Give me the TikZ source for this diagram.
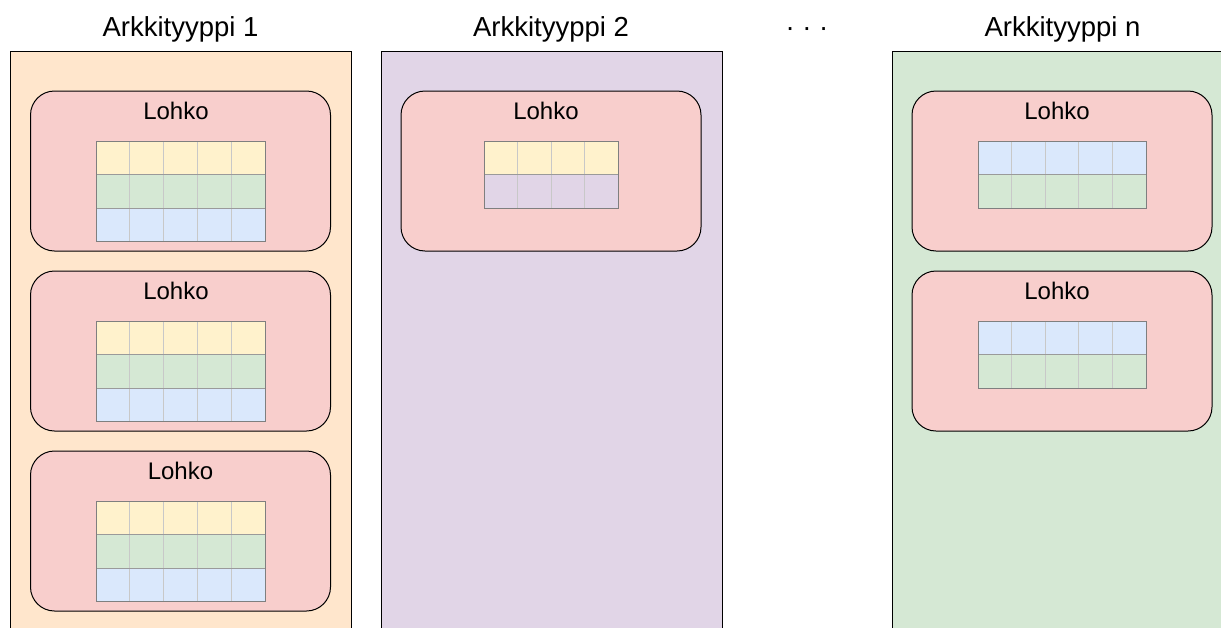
\documentclass[tikz,border=0pt]{standalone}
\usepackage{fontspec}
\setmainfont{Liberation Sans}
\definecolor{archA}{HTML}{FFE6CC}
\definecolor{archB}{HTML}{E1D5E7}
\definecolor{archC}{HTML}{D5E8D4}
\definecolor{blockfill}{HTML}{F8CECC}
\definecolor{rowY}{HTML}{FFF2CC}
\definecolor{rowG}{HTML}{D5E8D4}
\definecolor{rowB}{HTML}{DAE8FC}
\definecolor{rowP}{HTML}{E1D5E7}
\definecolor{cellline}{HTML}{C8C8C8}
\definecolor{rowline}{HTML}{9A9A9A}
\definecolor{gridedge}{HTML}{7F7F7F}
\tikzset{
  archetype/.style={draw=black, line width=0.5pt, anchor=north west, inner sep=0pt, outer sep=0pt,
    minimum width=170.5pt, minimum height=300pt},
  block/.style={draw=black, line width=0.5pt, fill=blockfill, rounded corners=12pt, anchor=north west,
    inner sep=0pt, outer sep=0pt, minimum width=150pt, minimum height=80pt},
  title/.style={anchor=base, inner sep=0pt, font=\fontsize{13.75pt}{16pt}\selectfont},
  blocklabel/.style={anchor=base, inner sep=0pt, font=\fontsize{12pt}{14pt}\selectfont},
  cell/.style={draw=cellline, line width=0.5pt},
}
% table of coloured rows: x, y (top left), columns, total width, row colours
\newcommand\cellgrid[5]{%
  \pgfmathsetmacro\cw{#4/#3}%
  \foreach \rc [count=\r from 0] in {#5} {
    \foreach \k in {1,...,#3} {
      \draw[cell, fill=\rc] ({#1+(\k-1)*\cw},{#2+\r*33.5}) rectangle ++(\cw,33.5);
    }
    \ifnum\r>0
      \draw[rowline, line width=0.5pt] (#1,{#2+\r*33.5}) -- ++(#4,0);
    \fi
    \xdef\lastrow{\r}
  }
  \draw[gridedge, line width=0.5pt] (#1,#2) rectangle ({#1+#4},{#2+(\lastrow+1)*33.5});
}
\begin{document}
\begin{tikzpicture}[x=0.5pt, y=-0.5pt]
  \useasboundingbox (0,0) rectangle (1221,627);
  \clip (0,0) rectangle (1221,627);

  % archetype columns
  \node[archetype, fill=archA] (colA) at (10,51) {};
  \node[archetype, fill=archB] (colB) at (381,51) {};
  \node[archetype, fill=archC] (colC) at (892,51) {};

  % headings
  \node[title] (tA) at (180.5,36.5) {Arkkityyppi 1};
  \node[title] (tB) at (551,36.5) {Arkkityyppi 2};
  \node[title] (tdots) at (807,36.5) {· · ·};
  \node[title] (tC) at (1062.5,36.5) {Arkkityyppi n};

  % archetype 1: three blocks with three rows each
  \foreach \y/\lx [count=\i] in {91/176,271/176,451/180.5} {
    \node[block] (a\i) at (30.5,\y) {};
    \node[blocklabel] (la\i) at (\lx,\y+28) {Lohko};
    \cellgrid{96}{\y+50}{5}{169}{rowY,rowG,rowB}
  }

  % archetype 2: one block with two rows
  \node[block] (b1) at (401,91) {};
  \node[blocklabel] (lb1) at (546,119) {Lohko};
  \cellgrid{484}{141}{4}{134}{rowY,rowP}

  % archetype n: two blocks with two rows each
  \foreach \y [count=\i] in {91,271} {
    \node[block] (c\i) at (912,\y) {};
    \node[blocklabel] (lc\i) at (1057,\y+28) {Lohko};
    \cellgrid{978}{\y+50}{5}{168}{rowB,rowG}
  }
\end{tikzpicture}
\end{document}
